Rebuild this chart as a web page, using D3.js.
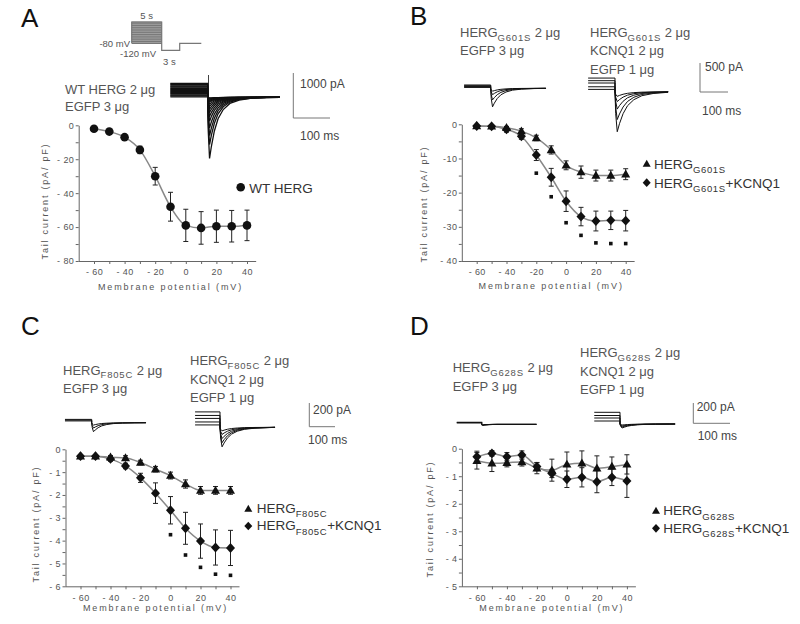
<!DOCTYPE html>
<html><head><meta charset="utf-8">
<script src="https://cdn.jsdelivr.net/npm/d3@7"></script>
<style>
body{margin:0;background:#fff;}
svg{display:block;font-family:"Liberation Sans",Arial,sans-serif;}
</style></head><body>
<svg id="c" width="800" height="624"></svg>
<script>
// ---------------- DATA ----------------
const voltages = [-60,-50,-40,-30,-20,-10,0,10,20,30,40];

const wtMean = [-2,-3.7,-7,-14.5,-30,-48,-59,-60.5,-59.5,-59.5,-59];
const wtErr  = [0.5,0.8,1.2,2.2,5.2,8.5,9.5,9.6,9.5,9.3,9];

const g601sMean = [-0.5,-0.6,-1,-2,-4,-7.5,-12,-14,-15,-15,-14.6];
const g601sErr  = [0.2,0.2,0.4,0.7,0.8,1.2,1.3,1.8,1.6,1.6,1.6];
const g601sKcnq1Mean = [-0.5,-0.6,-1.5,-3.5,-9,-15.5,-22.5,-27,-28.3,-28.1,-28.2];
const g601sKcnq1Err  = [0.2,0.3,0.8,0.9,1.6,2.6,3,2.7,2.9,2.7,3];
const g601sStarV = [-20,-10,0,10,20,30,40];
const g601sStarY = [-14.3,-21.2,-28.8,-32.5,-34.7,-34.9,-34.9];

const f805cMean = [-0.3,-0.3,-0.35,-0.38,-0.58,-0.87,-1.15,-1.52,-1.8,-1.8,-1.8];
const f805cErr  = [0.05,0.05,0.08,0.1,0.1,0.12,0.15,0.18,0.17,0.17,0.17];
const f805cKcnq1Mean = [-0.3,-0.3,-0.42,-0.73,-1.25,-1.92,-2.67,-3.46,-4.02,-4.3,-4.32];
const f805cKcnq1Err  = [0.05,0.06,0.1,0.12,0.2,0.45,0.6,0.7,0.75,0.77,0.77];
const f805cStarV = [0,10,20,30,40];
const f805cStarY = [-3.74,-4.63,-5.17,-5.47,-5.52];

const g628sMean = [-0.44,-0.53,-0.51,-0.48,-0.71,-0.78,-0.57,-0.53,-0.71,-0.65,-0.57];
const g628sErr  = [0.3,0.3,0.15,0.15,0.2,0.4,0.45,0.45,0.45,0.35,0.35];
const g628sKcnq1Mean = [-0.29,-0.17,-0.29,-0.23,-0.65,-0.9,-1.11,-1.04,-1.2,-1.04,-1.17];
const g628sKcnq1Err  = [0.2,0.1,0.15,0.15,0.15,0.15,0.3,0.35,0.4,0.3,0.6];

const xTickValues = [-60,-50,-40,-30,-20,-10,0,10,20,30,40];
const xTickMajor = [-60,-40,-20,0,20,40];
const xTickLabelsA = ["- 60","- 40","- 20","0","20","40"];
const xTickLabelsB = ["- 60","- 40","-20","0","20","40"];

const yMajorA = [0,-20,-40,-60,-80];   const yLabelsA = ["0","- 20","- 40","- 60","- 80"];
const yMajorB = [0,-10,-20,-30,-40];   const yLabelsB = ["0","-10","-20","-30","- 40"];
const yMajorC = [0,-1,-2,-3,-4,-5,-6]; const yLabelsC = ["0","- 1","- 2","- 3","- 4","- 5","- 6"];
const yMajorD = [0,-1,-2,-3,-4,-5];    const yLabelsD = ["0","- 1","- 2","- 3","- 4","- 5"];

// voltage protocol (panel A)
const protocolStepLevels = [-70,-60,-50,-40,-30,-20,-10,0,10,20,30,40];
const protocolHoldMv = -80, protocolTailMv = -120;
const protocolTimesS = [0,5,8,11.6];

// current traces (pA) : holding currents and tail peak currents
const traceAHold  = [10,30,50,70,90,110,130,150,170,190,210,230,250,270,290,310];
const traceAPeaks = [-15,-25,-40,-60,-85,-110,-150,-200,-260,-330,-420,-530,-680,-850,-1050,-1360];
const traceB1Hold = [15,30,45,57];
const traceB1Peaks= [-50,-110,-200,-320];
const traceB2Hold = [40,85,150,190,235];
const traceB2Peaks= [-80,-170,-300,-480,-690];
const traceC1Hold = [15,22,28];
const traceC1Peaks= [-20,-45,-76];
const traceC2Hold = [20,45,75,100,130];
const traceC2Peaks= [-30,-60,-95,-130,-165];
const traceD1Hold = [15,20];
const traceD1Peaks= [-5,-10];
const traceD2Hold = [30,60,85,117];
const traceD2Peaks= [-10,-20,-30,-40];
const tailShapeMs   = [0,1.5,5,10,18,28,42,60,85,120,160,200];
const tailShapeFrac = [0,0.55,1,0.8,0.55,0.35,0.2,0.1,0.045,0.015,0.004,0];

// ---------------- DRAW ----------------
const svg = d3.select("#c");
const AX = "#666", TXT = "#555";

function markerPath(type, s){
  if(type==="circle") return d3.symbol(d3.symbolCircle, Math.PI*s*s)();
  if(type==="triangle") return `M0,${-s*1.1}L${s*1.05},${s*0.75}L${-s*1.05},${s*0.75}Z`;
  return `M0,${-s*1.15}L${s*1.05},0L0,${s*1.15}L${-s*1.05},0Z`;
}

function drawPanel(p){
  const g = svg.append("g");
  const x = d3.scaleLinear().domain([-70,50]).range([p.left,p.right]);
  const y = d3.scaleLinear().domain([0,p.ymin]).range([p.top,p.bottom]);
  const yAll = [];
  for(let i=0;i<p.yMajor.length;i++){ yAll.push(p.yMajor[i]); if(i<p.yMajor.length-1) yAll.push((p.yMajor[i]+p.yMajor[i+1])/2); }
  const ya = g.append("g").attr("transform",`translate(${p.left},0)`)
    .call(d3.axisLeft(y).tickValues(yAll).tickSize(3).tickSizeOuter(0).tickPadding(1.5)
      .tickFormat(v=>{const i=p.yMajor.indexOf(v); return i>=0?p.yLabels[i]:"";}));
  const xa = g.append("g").attr("transform",`translate(0,${p.bottom})`)
    .call(d3.axisBottom(x).tickValues(xTickValues).tickSize(3).tickSizeOuter(0).tickPadding(5)
      .tickFormat(v=>{const i=xTickMajor.indexOf(v); return i>=0?p.xLabels[i]:"";}));
  xa.select(".domain").remove();
  g.append("line").attr("x1",p.left).attr("x2",x(46)).attr("y1",p.bottom+0.5).attr("y2",p.bottom+0.5)
    .attr("stroke",AX).attr("stroke-width",1);
  [ya,xa].forEach(a=>{
    a.selectAll("path,line").attr("stroke",AX);
    a.selectAll("text").attr("fill",TXT).attr("font-size",9).attr("font-family",'"Liberation Sans",Arial,sans-serif').attr("letter-spacing",0.4);
  });
  // titles
  g.append("text").attr("transform",`translate(${p.yTitleX},${p.yTitleY}) rotate(-90)`)
    .attr("text-anchor","middle").attr("font-size",9).attr("letter-spacing",1.8).attr("fill",TXT)
    .text("Tail current (pA/ pF)");
  g.append("text").attr("x",x(-10)).attr("y",p.xTitleY).attr("text-anchor","middle")
    .attr("font-size",9).attr("letter-spacing",1.9).attr("fill",TXT).text("Membrane potential (mV)");
  // series
  const line = d3.line().x((d,i)=>x(voltages[i])).y(d=>y(d)).curve(d3.curveMonotoneX);
  p.series.forEach(s=>{
    g.append("path").attr("d",line(s.mean)).attr("fill","none").attr("stroke","#888").attr("stroke-width",1.5);
  });
  p.series.forEach(s=>{
    const eb = g.append("g").attr("stroke","#222").attr("stroke-width",1);
    s.mean.forEach((m,i)=>{
      const cx = x(voltages[i]);
      eb.append("line").attr("x1",cx).attr("x2",cx).attr("y1",y(m-s.err[i])).attr("y2",y(m+s.err[i]));
      eb.append("line").attr("x1",cx-2.5).attr("x2",cx+2.5).attr("y1",y(m-s.err[i])).attr("y2",y(m-s.err[i]));
      eb.append("line").attr("x1",cx-2.5).attr("x2",cx+2.5).attr("y1",y(m+s.err[i])).attr("y2",y(m+s.err[i]));
    });
  });
  p.series.forEach(s=>{
    g.selectAll(null).data(s.mean).enter().append("path")
      .attr("d",markerPath(s.type,s.size))
      .attr("transform",(d,i)=>`translate(${x(voltages[i])},${y(d)})`)
      .attr("fill","#111");
  });
  if(p.starV){
    g.selectAll(null).data(p.starV).enter().append("rect")
      .attr("x",(d)=>x(d)-1.8).attr("y",(d,i)=>y(p.starY[i])-1.8)
      .attr("width",3.6).attr("height",3.6).attr("fill","#111");
  }
  // legend
  p.legend.forEach(l=>{
    g.append("path").attr("d",markerPath(l.type,l.size)).attr("transform",`translate(${l.mx},${l.my})`).attr("fill","#111");
    const t = g.append("text").attr("x",l.tx).attr("y",l.ty).attr("font-size",13.5).attr("fill","#333");
    t.append("tspan").text(l.main);
    if(l.sub){
      t.append("tspan").attr("dy",4.5).attr("font-size",9.5).attr("letter-spacing",0.6).text(l.sub);
      if(l.rest) t.append("tspan").attr("dy",-4.5).attr("font-size",13.5).text(l.rest);
    }
  });
}

function headerText(lines, x, baselines){
  lines.forEach((ln,i)=>{
    const t = svg.append("text").attr("x",x).attr("y",baselines[i]).attr("font-size",13).attr("fill",TXT);
    t.append("tspan").text(ln[0]);
    if(ln.length>1){
      t.append("tspan").attr("dy",3.5).attr("font-size",9.5).attr("letter-spacing",0.8).text(ln[1]);
      t.append("tspan").attr("dy",-3.5).attr("font-size",13).text(ln[2]);
    }
  });
}

function drawTrace(c, hold, peaks){
  const t = d3.scaleLinear().domain([0,100]).range([c.t0, c.t0+100*c.pxms]);
  const cur = d3.scaleLinear().domain([0,1000]).range([c.base, c.base-1000*c.pxpa]);
  const g = svg.append("g");
  const ln = d3.line().x(d=>t(d[0])).y(d=>cur(d[1]));
  hold.forEach((h,i)=>{
    const pts = [[-c.holdMs,h],[0,h]];
    tailShapeMs.forEach((ms,k)=>pts.push([Math.min(ms*c.stretch,c.tailMs), peaks[i]*tailShapeFrac[k]]));
    pts.push([c.tailMs,0]);
    g.append("path").attr("d",ln(pts)).attr("fill","none").attr("stroke","#111").attr("stroke-width",c.sw);
  });
}

function scaleBar(b){
  svg.append("path").attr("d",`M${b.x},${b.y1}V${b.y2}H${b.x2}`).attr("fill","none").attr("stroke","#777").attr("stroke-width",1);
  svg.append("text").attr("x",b.lx1).attr("y",b.ly1).attr("font-size",12).attr("fill","#444").text(b.l1);
  svg.append("text").attr("x",b.lx2).attr("y",b.ly2).attr("font-size",12).attr("fill","#444").text(b.l2);
}

// panel letters
[["A",21,27],["B",410,25],["C",21,335],["D",410,335]].forEach(d=>{
  svg.append("text").attr("x",d[1]).attr("y",d[2]).attr("font-size",26).attr("fill","#111").text(d[0]);
});

// ---- Panel A protocol ----
(function(){
  const pt = d3.scaleLinear().domain([0,5]).range([131.7,161.7]);
  const pv = d3.scaleLinear().domain([-80,40]).range([43.3,22]);
  const g = svg.append("g");
  g.append("rect").attr("x",pt(0)).attr("y",pv(40)).attr("width",pt(5)-pt(0)).attr("height",pv(-80)-pv(40)).attr("fill","#a8a8a8");
  protocolStepLevels.forEach(v=>g.append("line").attr("x1",pt(0)).attr("x2",pt(5)).attr("y1",pv(v)).attr("y2",pv(v)).attr("stroke","#6a6a6a").attr("stroke-width",0.8));
  g.append("path").attr("d",`M${pt(protocolTimesS[0])},${pv(protocolHoldMv)}V${pv(40)}H${pt(protocolTimesS[1])}V${pv(protocolTailMv)}H${pt(protocolTimesS[2])}V${pv(protocolHoldMv)}H${pt(protocolTimesS[3])}M${pt(0)},${pv(protocolHoldMv)}H${pt(5)}`)
    .attr("fill","none").attr("stroke","#777").attr("stroke-width",1.2);
  const f = 9.5;
  g.append("text").attr("x",pt(2.5)).attr("y",19).attr("text-anchor","middle").attr("font-size",f).attr("fill",TXT).text("5 s");
  g.append("text").attr("x",130).attr("y",46.5).attr("text-anchor","end").attr("font-size",f).attr("fill",TXT).text("-80 mV");
  g.append("text").attr("x",156).attr("y",56.5).attr("text-anchor","end").attr("font-size",f).attr("fill",TXT).text("-120 mV");
  g.append("text").attr("x",163).attr("y",65).attr("font-size",f).attr("fill",TXT).text("3 s");
})();

// headers
headerText([["WT HERG 2 \u03bcg"],["EGFP 3 \u03bcg"]],65,[94.3,110.5]);
headerText([["HERG","G601S"," 2 \u03bcg"],["EGFP 3 \u03bcg"]],460,[37.3,55]);
headerText([["HERG","G601S"," 2 \u03bcg"],["KCNQ1 2 \u03bcg"],["EGFP 1 \u03bcg"]],590,[37.3,55,74]);
headerText([["HERG","F805C"," 2 \u03bcg"],["EGFP 3 \u03bcg"]],63,[374.5,392.5]);
headerText([["HERG","F805C"," 2 \u03bcg"],["KCNQ1 2 \u03bcg"],["EGFP 1 \u03bcg"]],190,[365,384,402]);
headerText([["HERG","G628S"," 2 \u03bcg"],["EGFP 3 \u03bcg"]],452.7,[372,390.5]);
headerText([["HERG","G628S"," 2 \u03bcg"],["KCNQ1 2 \u03bcg"],["EGFP 1 \u03bcg"]],580,[357.3,375.7,394]);

// traces
drawTrace({t0:207.7,pxms:0.37,base:97.3,pxpa:0.045,holdMs:101,tailMs:195,stretch:1,sw:1.3},traceAHold,traceAPeaks);
svg.append("line").attr("x1",208.5).attr("x2",208.5).attr("y1",75).attr("y2",97).attr("stroke","#111").attr("stroke-width",0.8);
drawTrace({t0:490.7,pxms:0.28,base:88.3,pxpa:0.058,holdMs:95,tailMs:197,stretch:1.3,sw:1},traceB1Hold,traceB1Peaks);
drawTrace({t0:615,pxms:0.28,base:91.7,pxpa:0.058,holdMs:96,tailMs:189,stretch:1.6,sw:1},traceB2Hold,traceB2Peaks);
drawTrace({t0:91.7,pxms:0.257,base:422.7,pxpa:0.1185,holdMs:104,tailMs:211,stretch:1.4,sw:1},traceC1Hold,traceC1Peaks);
drawTrace({t0:220,pxms:0.257,base:427.3,pxpa:0.1185,holdMs:97,tailMs:214,stretch:1.6,sw:1},traceC2Hold,traceC2Peaks);
drawTrace({t0:481.7,pxms:0.26,base:424.3,pxpa:0.1,holdMs:96,tailMs:211,stretch:1,sw:1.2},traceD1Hold,traceD1Peaks);
drawTrace({t0:620,pxms:0.26,base:424,pxpa:0.1,holdMs:99,tailMs:212,stretch:1.6,sw:1},traceD2Hold,traceD2Peaks);

// scale bars
scaleBar({x:293.3,y1:73,y2:118,x2:330,l1:"1000 pA",lx1:300,ly1:88,l2:"100 ms",lx2:300,ly2:140});
scaleBar({x:700,y1:63,y2:92,x2:728,l1:"500 pA",lx1:705,ly1:71,l2:"100 ms",lx2:702,ly2:114.5});
scaleBar({x:309.3,y1:403,y2:426.7,x2:335,l1:"200 pA",lx1:313,ly1:414,l2:"100 ms",lx2:308,ly2:444});
scaleBar({x:693.3,y1:403,y2:423.3,x2:730,l1:"200 pA",lx1:696.7,ly1:411,l2:"100 ms",lx2:697.7,ly2:440});

// panels
drawPanel({left:78.7,right:262.3,top:125.3,bottom:261,ymin:-80,yMajor:yMajorA,yLabels:yLabelsA,xLabels:xTickLabelsA,
  yTitleX:48,yTitleY:201,xTitleY:289.5,
  series:[{mean:wtMean,err:wtErr,type:"circle",size:4.3}],
  legend:[{type:"circle",size:4.3,mx:240.7,my:187.3,tx:249.3,ty:192.5,main:"WT HERG"}]});
drawPanel({left:461.8,right:640.6,top:124.3,bottom:261,ymin:-40,yMajor:yMajorB,yLabels:yLabelsB,xLabels:xTickLabelsB,
  yTitleX:427,yTitleY:204,xTitleY:288.5,
  series:[{mean:g601sMean,err:g601sErr,type:"triangle",size:4.3},{mean:g601sKcnq1Mean,err:g601sKcnq1Err,type:"diamond",size:4.3}],
  starV:g601sStarV,starY:g601sStarY,
  legend:[{type:"triangle",size:3.8,mx:646.7,my:164,tx:654,ty:168.5,main:"HERG",sub:"G601S"},
          {type:"diamond",size:3.8,mx:646.7,my:182.7,tx:654,ty:187.5,main:"HERG",sub:"G601S",rest:"+KCNQ1"}]});
drawPanel({left:65.5,right:245.5,top:449.3,bottom:586.3,ymin:-6,yMajor:yMajorC,yLabels:yLabelsC,xLabels:xTickLabelsA,
  yTitleX:38.5,yTitleY:524,xTitleY:611,
  series:[{mean:f805cMean,err:f805cErr,type:"triangle",size:4.3},{mean:f805cKcnq1Mean,err:f805cKcnq1Err,type:"diamond",size:4.3}],
  starV:f805cStarV,starY:f805cStarY,
  legend:[{type:"triangle",size:3.8,mx:248.3,my:509,tx:256.7,ty:512.5,main:"HERG",sub:"F805C"},
          {type:"diamond",size:3.8,mx:248.3,my:526,tx:256.7,ty:530,main:"HERG",sub:"F805C",rest:"+KCNQ1"}]});
drawPanel({left:461.9,right:641.9,top:448.7,bottom:586.3,ymin:-5,yMajor:yMajorD,yLabels:yLabelsD,xLabels:xTickLabelsA,
  yTitleX:433,yTitleY:519,xTitleY:611,
  series:[{mean:g628sMean,err:g628sErr,type:"triangle",size:4.3},{mean:g628sKcnq1Mean,err:g628sKcnq1Err,type:"diamond",size:4.3}],
  legend:[{type:"triangle",size:3.8,mx:656,my:511,tx:663.3,ty:515,main:"HERG",sub:"G628S"},
          {type:"diamond",size:3.8,mx:656,my:528.3,tx:663.3,ty:532.7,main:"HERG",sub:"G628S",rest:"+KCNQ1"}]});
</script>
</body></html>
